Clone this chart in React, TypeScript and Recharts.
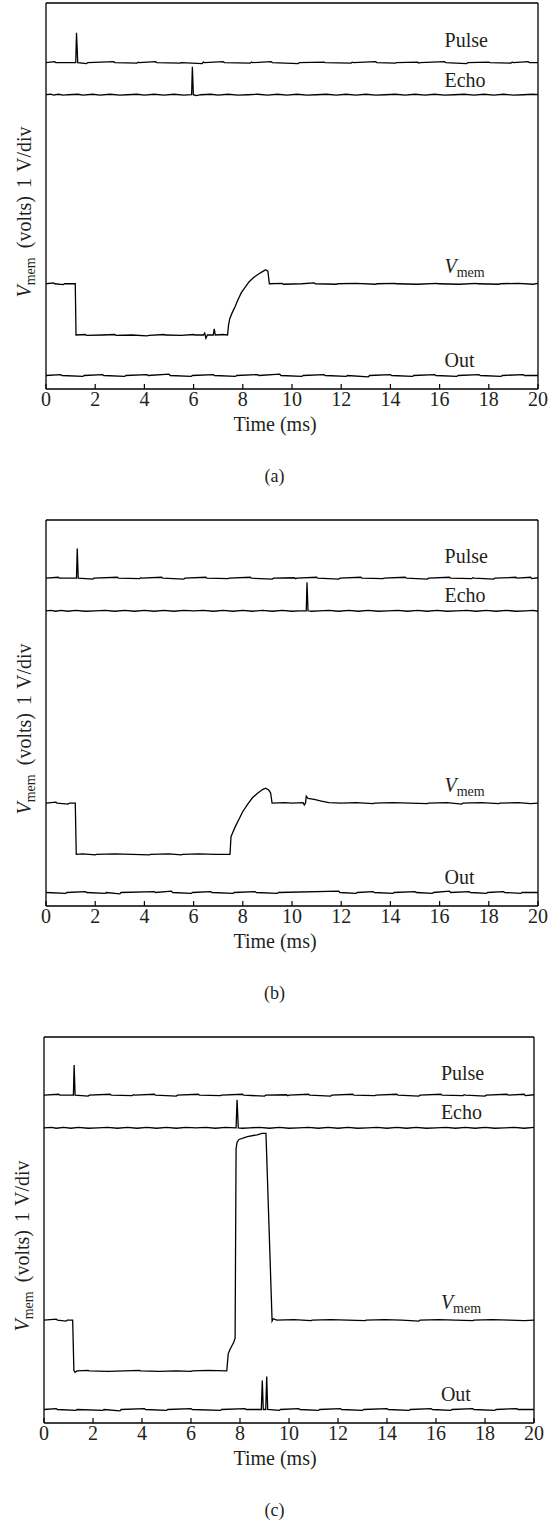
import React from "react";
import { LineChart, Line, XAxis, YAxis, ReferenceDot } from "recharts";

type Pt = [number, number];

const timeTicks = [0, 2, 4, 6, 8, 10, 12, 14, 16, 18, 20];
const divTicks = [0, 1, 2, 3, 4, 5, 6, 7, 8];
const panelTags = ["(a)", "(b)", "(c)"];

// (a) echo returns at ~6 ms
const pulseA: Pt[] = [
  [0, 6.72], [0.35, 6.74], [0.4, 6.72], [1.21, 6.72], [1.24, 7.36], [1.29, 6.72], [1.65, 6.7], [1.7, 6.72],
  [2.75, 6.74], [2.8, 6.72], [3.7, 6.71], [3.75, 6.73], [3.8, 6.72], [4.45, 6.74], [4.5, 6.72], [5.45, 6.71],
  [5.5, 6.72], [6.35, 6.7], [6.4, 6.73], [6.45, 6.72], [7.2, 6.74], [7.25, 6.72], [8.3, 6.71], [8.35, 6.73],
  [8.4, 6.72], [9.15, 6.74], [9.2, 6.72], [10.25, 6.7], [10.3, 6.72], [11.3, 6.73], [11.35, 6.72], [12.4, 6.71],
  [12.45, 6.73], [12.5, 6.72], [13.4, 6.74], [13.45, 6.72], [14.2, 6.71], [14.25, 6.72], [15.1, 6.73], [15.15, 6.71],
  [15.2, 6.72], [16.2, 6.74], [16.25, 6.72], [17.1, 6.7], [17.15, 6.72], [18.0, 6.73], [18.05, 6.72], [18.9, 6.71],
  [18.95, 6.73], [19.0, 6.72], [19.6, 6.74], [19.65, 6.72], [20, 6.72],
];
const echoA: Pt[] = [
  [0, 6.03], [0.2, 6.04], [0.3, 6.02], [0.5, 6.04], [0.7, 6.02], [0.9, 6.03], [1.3, 6.04], [1.5, 6.02], [1.9, 6.04],
  [2.2, 6.02], [2.6, 6.04], [3.0, 6.02], [3.3, 6.03], [3.7, 6.04], [4.0, 6.02], [4.4, 6.04], [4.8, 6.02], [5.2, 6.04],
  [5.6, 6.02], [5.92, 6.03], [5.95, 6.63], [5.99, 6.03], [6.1, 6.01], [6.3, 6.03], [6.7, 6.04], [7.0, 6.02], [7.4, 6.04],
  [7.8, 6.02], [8.2, 6.03], [8.6, 6.04], [9.0, 6.02], [9.4, 6.04], [9.8, 6.02], [10.2, 6.04], [10.6, 6.02], [11.0, 6.03],
  [11.4, 6.04], [11.8, 6.02], [12.2, 6.04], [12.6, 6.02], [13.0, 6.04], [13.4, 6.02], [13.8, 6.03], [14.2, 6.04],
  [14.6, 6.02], [15.0, 6.04], [15.4, 6.02], [15.8, 6.04], [16.2, 6.02], [16.6, 6.03], [17.0, 6.04], [17.4, 6.02],
  [17.8, 6.04], [18.2, 6.02], [18.6, 6.04], [19.0, 6.02], [19.4, 6.03], [19.8, 6.04], [20, 6.03],
];
const vmemA: Pt[] = [
  [0, 1.97], [0.3, 1.99], [0.35, 1.97], [0.7, 1.95], [0.75, 1.97], [1.19, 1.97], [1.22, 0.87], [1.6, 0.88], [1.65, 0.86],
  [2.3, 0.87], [2.8, 0.88], [2.85, 0.86], [3.5, 0.87], [4.1, 0.85], [4.2, 0.86], [4.8, 0.88], [4.85, 0.87], [5.5, 0.86],
  [6.0, 0.88], [6.05, 0.87], [6.4, 0.87], [6.45, 0.91], [6.5, 0.8], [6.56, 0.87], [6.8, 0.87], [6.84, 1.0], [6.88, 0.87],
  [7.2, 0.88], [7.38, 0.87], [7.42, 1.08], [7.47, 1.22], [7.57, 1.35], [7.68, 1.47], [7.8, 1.62], [7.94, 1.78],
  [8.1, 1.9], [8.25, 2.01], [8.43, 2.1], [8.61, 2.17], [8.8, 2.23], [8.93, 2.27], [9.02, 2.24], [9.08, 1.97],
  [9.6, 1.98], [9.65, 1.96], [10.4, 1.97], [10.9, 1.99], [10.95, 1.97], [11.8, 1.96], [11.85, 1.97], [12.6, 1.98],
  [13.4, 1.96], [13.45, 1.97], [14.2, 1.98], [14.25, 1.97], [15.1, 1.96], [15.9, 1.98], [15.95, 1.97], [16.8, 1.96],
  [17.5, 1.98], [17.55, 1.97], [18.4, 1.96], [18.45, 1.97], [19.2, 1.98], [19.8, 1.96], [20, 1.98],
];
const outA: Pt[] = [
  [0, 0], [0.6, 0.02], [0.65, 0], [1.5, -0.02], [1.55, 0], [2.3, 0.02], [2.35, 0], [3.2, -0.02], [3.25, 0],
  [4.1, 0.02], [4.15, 0], [5.0, 0.03], [5.05, 0], [5.9, -0.02], [5.95, 0], [6.8, 0.02], [6.85, 0], [7.7, -0.02],
  [7.75, 0], [8.6, 0.02], [8.65, 0], [9.5, 0.03], [9.55, 0], [10.4, -0.02], [10.45, 0], [11.3, 0.02], [11.35, 0],
  [12.2, -0.02], [12.25, 0], [13.1, -0.03], [13.15, 0], [14.0, 0.02], [14.05, 0], [14.9, -0.02], [14.95, 0],
  [15.8, 0.02], [15.85, 0], [16.7, -0.02], [16.75, 0], [17.6, 0.02], [17.65, 0], [18.5, -0.02], [18.55, 0],
  [19.4, 0.02], [19.45, 0], [20, 0],
];

// (b) echo returns at ~10.6 ms
const pulseB: Pt[] = [
  [0, 6.75], [0.5, 6.77], [0.55, 6.75], [1.24, 6.75], [1.27, 7.39], [1.31, 6.75], [1.9, 6.73], [1.95, 6.75],
  [2.9, 6.77], [2.95, 6.75], [3.8, 6.74], [3.85, 6.76], [3.9, 6.75], [4.7, 6.77], [4.75, 6.75], [5.6, 6.73],
  [5.65, 6.75], [6.5, 6.77], [6.55, 6.75], [7.4, 6.74], [7.45, 6.75], [8.3, 6.77], [8.35, 6.75], [9.2, 6.73],
  [9.25, 6.75], [10.1, 6.76], [10.15, 6.74], [10.2, 6.75], [11.0, 6.77], [11.05, 6.75], [11.9, 6.73], [11.95, 6.75],
  [12.8, 6.77], [12.85, 6.75], [13.7, 6.74], [13.75, 6.75], [14.6, 6.77], [14.65, 6.75], [15.5, 6.73], [15.55, 6.75],
  [16.4, 6.77], [16.45, 6.75], [17.3, 6.74], [17.35, 6.76], [17.4, 6.75], [18.2, 6.73], [18.25, 6.75], [19.1, 6.77],
  [19.15, 6.75], [19.7, 6.77], [19.75, 6.74], [20, 6.76],
];
const echoB: Pt[] = [
  [0, 6.05], [0.2, 6.06], [0.4, 6.04], [0.6, 6.06], [0.9, 6.04], [1.2, 6.06], [1.6, 6.04], [2.0, 6.05], [2.4, 6.06],
  [2.8, 6.04], [3.2, 6.06], [3.6, 6.04], [4.0, 6.06], [4.4, 6.04], [4.8, 6.06], [5.2, 6.04], [5.6, 6.06], [6.0, 6.05],
  [6.4, 6.06], [6.8, 6.04], [7.2, 6.06], [7.6, 6.04], [8.0, 6.06], [8.4, 6.04], [8.8, 6.06], [9.2, 6.04], [9.6, 6.06],
  [10.0, 6.04], [10.3, 6.05], [10.58, 6.05], [10.61, 6.66], [10.65, 6.05], [10.8, 6.04], [11.1, 6.05], [11.5, 6.06],
  [11.9, 6.04], [12.3, 6.06], [12.7, 6.04], [13.1, 6.06], [13.5, 6.04], [13.9, 6.05], [14.3, 6.06], [14.7, 6.04],
  [15.1, 6.06], [15.5, 6.04], [15.9, 6.06], [16.3, 6.04], [16.7, 6.05], [17.1, 6.06], [17.5, 6.04], [17.9, 6.06],
  [18.3, 6.04], [18.7, 6.06], [19.1, 6.04], [19.5, 6.05], [19.8, 6.06], [20, 6.04],
];
const vmemB: Pt[] = [
  [0, 1.92], [0.4, 1.94], [0.45, 1.92], [0.9, 1.9], [0.95, 1.92], [1.19, 1.92], [1.23, 0.82], [1.5, 0.83],
  [2.0, 0.81], [2.05, 0.82], [2.8, 0.83], [3.5, 0.82], [4.2, 0.81], [4.25, 0.82], [5.0, 0.83], [5.5, 0.81],
  [5.55, 0.82], [6.2, 0.83], [6.9, 0.82], [7.48, 0.82], [7.52, 1.2], [7.6, 1.3], [7.7, 1.42], [7.85, 1.58],
  [8.0, 1.74], [8.2, 1.9], [8.4, 2.04], [8.6, 2.13], [8.8, 2.21], [8.93, 2.24], [9.05, 2.2], [9.13, 2.14],
  [9.19, 1.92], [9.7, 1.93], [10.0, 1.92], [10.45, 1.93], [10.5, 1.88], [10.55, 1.92], [10.58, 2.07], [10.65, 2.02],
  [10.9, 2.0], [11.2, 1.96], [11.5, 1.93], [12.0, 1.92], [12.6, 1.93], [13.3, 1.91], [13.35, 1.92], [14.1, 1.93],
  [14.8, 1.92], [15.5, 1.91], [15.55, 1.92], [16.3, 1.93], [16.9, 1.9], [16.95, 1.92], [17.7, 1.93], [18.4, 1.91],
  [18.45, 1.92], [19.2, 1.93], [19.7, 1.91], [20, 1.92],
];
const outB: Pt[] = [
  [0, 0], [0.8, -0.02], [0.85, 0], [1.6, 0.02], [1.65, 0], [2.4, -0.02], [2.45, 0], [3.0, -0.03], [3.05, 0],
  [4.4, 0.02], [4.45, 0], [5.1, 0.03], [5.15, 0], [5.9, -0.02], [5.95, 0], [6.7, 0.02], [6.75, 0], [7.6, -0.02],
  [7.65, 0], [8.5, 0.02], [8.55, 0], [9.4, -0.02], [9.45, 0], [11.9, 0.03], [11.95, 0], [12.6, -0.02], [12.65, 0],
  [13.3, 0.02], [13.35, 0], [14.1, -0.02], [14.15, 0], [15.0, 0.02], [15.05, 0], [15.7, -0.02], [15.75, 0],
  [16.4, 0.03], [16.45, 0], [17.2, 0.02], [17.25, 0], [17.9, -0.02], [17.95, 0], [18.6, 0.02], [18.65, 0],
  [19.3, -0.02], [19.35, 0], [20, 0],
];

// (c) echo returns at ~7.9 ms and the neuron fires
const pulseC: Pt[] = [
  [0, 6.75], [0.6, 6.77], [0.65, 6.75], [1.2, 6.75], [1.23, 7.4], [1.27, 6.75], [1.8, 6.73], [1.85, 6.75],
  [2.7, 6.77], [2.75, 6.75], [3.6, 6.74], [3.65, 6.76], [3.7, 6.75], [4.5, 6.77], [4.55, 6.75], [5.4, 6.73],
  [5.45, 6.75], [6.3, 6.77], [6.35, 6.75], [7.2, 6.74], [7.25, 6.75], [8.1, 6.77], [8.15, 6.75], [9.0, 6.73],
  [9.05, 6.75], [9.9, 6.76], [9.95, 6.74], [10.0, 6.75], [10.8, 6.77], [10.85, 6.75], [11.7, 6.73], [11.75, 6.75],
  [12.6, 6.77], [12.65, 6.75], [13.5, 6.74], [13.55, 6.75], [14.4, 6.77], [14.45, 6.75], [15.3, 6.73], [15.35, 6.75],
  [16.2, 6.77], [16.25, 6.75], [17.1, 6.74], [17.15, 6.76], [17.2, 6.75], [18.0, 6.73], [18.05, 6.75], [18.9, 6.77],
  [18.95, 6.75], [19.6, 6.77], [19.65, 6.74], [20, 6.76],
];
const echoC: Pt[] = [
  [0, 6.05], [0.3, 6.06], [0.5, 6.04], [0.8, 6.06], [1.1, 6.04], [1.4, 6.06], [1.8, 6.04], [2.2, 6.05], [2.6, 6.06],
  [3.0, 6.04], [3.4, 6.06], [3.8, 6.04], [4.2, 6.06], [4.6, 6.04], [5.0, 6.06], [5.4, 6.04], [5.8, 6.06], [6.2, 6.05],
  [6.6, 6.06], [7.0, 6.04], [7.4, 6.06], [7.84, 6.05], [7.88, 6.65], [7.93, 6.05], [8.1, 6.04], [8.4, 6.05],
  [8.8, 6.06], [9.2, 6.04], [9.6, 6.06], [10.0, 6.04], [10.4, 6.05], [10.8, 6.06], [11.2, 6.04], [11.6, 6.06],
  [12.0, 6.04], [12.4, 6.06], [12.8, 6.04], [13.2, 6.05], [13.6, 6.06], [14.0, 6.04], [14.4, 6.06], [14.8, 6.04],
  [15.2, 6.06], [15.6, 6.04], [16.0, 6.05], [16.4, 6.06], [16.8, 6.04], [17.2, 6.06], [17.6, 6.04], [18.0, 6.06],
  [18.4, 6.04], [18.8, 6.05], [19.2, 6.06], [19.6, 6.04], [20, 6.06],
];
const vmemC: Pt[] = [
  [0, 1.92], [0.5, 1.94], [0.55, 1.92], [0.9, 1.9], [0.95, 1.92], [1.17, 1.92], [1.22, 0.84], [1.27, 0.8],
  [1.35, 0.83], [1.8, 0.84], [1.85, 0.83], [2.6, 0.82], [3.3, 0.83], [3.9, 0.84], [3.95, 0.83], [4.7, 0.82],
  [5.4, 0.83], [6.0, 0.82], [6.05, 0.83], [6.7, 0.84], [7.46, 0.83], [7.52, 1.2], [7.6, 1.3], [7.75, 1.45],
  [7.8, 1.53], [7.84, 5.6], [7.88, 5.74], [7.96, 5.8], [8.3, 5.86], [8.7, 5.9], [8.9, 5.93], [9.06, 5.93],
  [9.31, 1.9], [9.36, 1.95], [9.5, 1.92], [10.2, 1.93], [10.9, 1.91], [10.95, 1.92], [11.7, 1.93], [12.4, 1.92],
  [13.1, 1.91], [13.15, 1.92], [13.9, 1.93], [14.6, 1.92], [15.3, 1.9], [15.35, 1.92], [16.1, 1.93], [16.8, 1.92],
  [17.5, 1.91], [17.55, 1.92], [18.3, 1.93], [19.0, 1.92], [19.6, 1.91], [20, 1.92],
];
const outC: Pt[] = [
  [0, 0], [0.5, 0.02], [0.55, 0], [1.3, -0.02], [1.35, 0], [2.4, -0.02], [2.45, 0], [3.1, -0.03], [3.15, 0],
  [4.1, 0.02], [4.15, 0], [5.0, -0.02], [5.05, 0], [6.0, 0.02], [6.05, 0], [7.2, -0.02], [7.25, 0], [8.2, 0.02],
  [8.25, 0], [8.87, 0], [8.91, 0.62], [8.95, 0], [9.05, 0], [9.09, 0.71], [9.13, 0], [9.6, -0.02], [9.65, 0],
  [10.4, 0.02], [10.45, 0], [11.2, -0.02], [11.25, 0], [12.1, 0.02], [12.15, 0], [13.0, -0.02], [13.05, 0],
  [14.0, 0.02], [14.05, 0], [14.9, -0.02], [14.95, 0], [15.8, 0.02], [15.85, 0], [16.6, -0.02], [16.65, 0],
  [17.5, 0.02], [17.55, 0], [18.4, -0.02], [18.45, 0], [19.3, 0.02], [19.35, 0], [20, 0],
];

const FONT = "'Liberation Serif', 'DejaVu Serif', serif";
const INK = "#231f20";

const toRows = (pts: Pt[]) => pts.map(([t, v]) => ({ t, v }));

type LabelPos = { pulse: number; echo: number; vmem: number; out: number };

type PanelProps = {
  tag: string;
  pulse: Pt[];
  echo: Pt[];
  vmem: Pt[];
  out: Pt[];
  labels: LabelPos;
  left: number;
  right: number;
};

const LABEL_T = 16.2;

const nameShape = (text: React.ReactNode) => (p: any) => (
  <text x={p.cx} y={p.cy} fontFamily={FONT} fontSize={20} fill={INK} textAnchor="start">
    {text}
  </text>
);

const vmemText = (
  <>
    <tspan fontStyle="italic">V</tspan>
    <tspan fontSize={14} dy={4}>mem</tspan>
  </>
);

// rotated y title, spaced out a little wider than plain text
const yTitle = (props: any) => {
  const vb = props.viewBox;
  const x = vb.x - 14;
  const y = vb.y + vb.height / 2 + 16;
  return (
    <text x={x} y={y} transform={`rotate(-90 ${x} ${y})`} fontFamily={FONT} fontSize={20} fill={INK} textAnchor="middle">
      <tspan fontStyle="italic">V</tspan>
      <tspan fontSize={14} dy={4}>mem</tspan>
      <tspan dy={-4} dx={9}>(volts)</tspan>
      <tspan dx={8}>1</tspan>
      <tspan dx={6}>V/div</tspan>
    </text>
  );
};

const xTitle = (props: any) => {
  const vb = props.viewBox;
  return (
    <text x={275} y={vb.y + 42} fontFamily={FONT} fontSize={20} fill={INK} textAnchor="middle">
      Time (ms)
    </text>
  );
};

function Panel({ tag, pulse, echo, vmem, out, labels, left, right }: PanelProps) {
  const axisLine = { stroke: "#000", strokeWidth: 1.3 };
  const tickLine = { stroke: "#000", strokeWidth: 1.2 };
  return (
    <div style={{ position: "relative", width: 549, height: 517 }}>
      <LineChart width={549} height={439} margin={{ top: 2, right: right - 1, bottom: 0, left: left - 1 }}>
        <XAxis
          dataKey="t"
          type="number"
          domain={[0, 20]}
          ticks={timeTicks}
          allowDataOverflow
          height={50}
          tickSize={-5}
          tickMargin={8}
          axisLine={axisLine}
          tickLine={tickLine}
          tick={{ fontFamily: FONT, fontSize: 20, fill: INK }}
          label={{ content: xTitle }}
        />
        <XAxis
          xAxisId="top"
          orientation="top"
          dataKey="t"
          type="number"
          domain={[0, 20]}
          ticks={timeTicks}
          height={1}
          tickSize={-5}
          tick={false}
          axisLine={axisLine}
          tickLine={tickLine}
        />
        <YAxis
          type="number"
          domain={[-0.29, 8]}
          ticks={divTicks}
          allowDataOverflow
          width={1}
          tickSize={-5}
          tick={false}
          axisLine={axisLine}
          tickLine={tickLine}
          label={{ content: yTitle }}
        />
        <YAxis
          yAxisId="r"
          orientation="right"
          type="number"
          domain={[-0.29, 8]}
          ticks={divTicks}
          width={1}
          tickSize={-5}
          tick={false}
          axisLine={axisLine}
          tickLine={tickLine}
        />
        {[pulse, echo, vmem, out].map((trace, i) => (
          <Line
            key={i}
            data={toRows(trace)}
            dataKey="v"
            type="linear"
            stroke="#000"
            strokeWidth={1.3}
            dot={false}
            isAnimationActive={false}
          />
        ))}
        <ReferenceDot x={LABEL_T} y={labels.pulse} r={0} shape={nameShape("Pulse")} />
        <ReferenceDot x={LABEL_T} y={labels.echo} r={0} shape={nameShape("Echo")} />
        <ReferenceDot x={LABEL_T} y={labels.vmem} r={0} shape={nameShape(vmemText)} />
        <ReferenceDot x={LABEL_T} y={labels.out} r={0} shape={nameShape("Out")} />
      </LineChart>
      <div
        style={{
          position: "absolute",
          top: 466,
          left: 0,
          width: 549,
          textAlign: "center",
          fontFamily: FONT,
          fontSize: 18,
          color: INK,
        }}
      >
        {tag}
      </div>
    </div>
  );
}

export default function App() {
  return (
    <div style={{ position: "absolute", top: 0, left: 0, width: 549, height: 1523, background: "#fff", overflow: "hidden" }}>
      <Panel tag={panelTags[0]} pulse={pulseA} echo={echoA} vmem={vmemA} out={outA}
        labels={{ pulse: 7.05, echo: 6.2, vmem: 2.2, out: 0.18 }} left={46} right={11} />
      <Panel tag={panelTags[1]} pulse={pulseB} echo={echoB} vmem={vmemB} out={outB}
        labels={{ pulse: 7.08, echo: 6.23, vmem: 2.16, out: 0.18 }} left={46} right={11} />
      <Panel tag={panelTags[2]} pulse={pulseC} echo={echoC} vmem={vmemC} out={outC}
        labels={{ pulse: 7.08, echo: 6.23, vmem: 2.16, out: 0.18 }} left={44} right={15} />
    </div>
  );
}
